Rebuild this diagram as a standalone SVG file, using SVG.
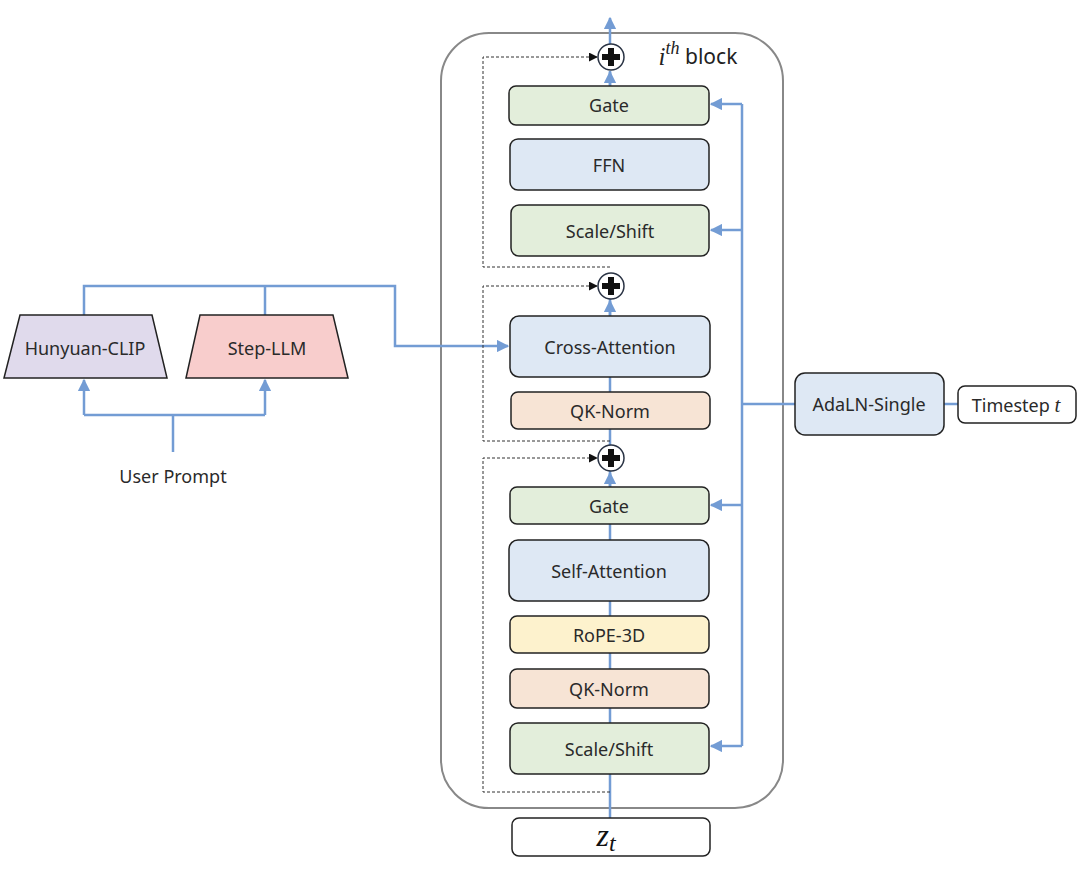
<svg xmlns="http://www.w3.org/2000/svg" width="1080" height="875" viewBox="0 0 1080 875">
<defs>
<style>
.box{stroke:#222;stroke-width:1.5}
.g{fill:#e3eedb}.b{fill:#dee8f4}.p{fill:#f7e4d5}.y{fill:#fdf2cd}.w{fill:#fff}
.t{font-family:"Noto Sans","Open Sans",sans-serif;font-size:18px;fill:#2a2a2a;text-anchor:middle;dominant-baseline:central}
.bl{fill:none;stroke:#739cd4;stroke-width:2.5}
.ds{fill:none;stroke:#333;stroke-width:1;stroke-dasharray:3,2}
</style>
<marker id="ab" viewBox="0 0 10 10" refX="9" refY="5" markerWidth="5" markerHeight="5" orient="auto"><path d="M0,0L10,5L0,10z" fill="#739cd4"/></marker>
<marker id="ak" viewBox="0 0 10 10" refX="9" refY="5" markerWidth="9" markerHeight="9" orient="auto" markerUnits="userSpaceOnUse"><path d="M0,0L10,5L0,10z" fill="#111"/></marker>
<g id="plus"><circle r="13" fill="#fff" stroke="#2a3344" stroke-width="1.5"/><path d="M-3,-9H3V-3H9V3H3V9H-3V3H-9V-3H-3z" fill="#111"/></g>
</defs>
<rect width="1080" height="875" fill="#fff"/>
<g id="outer-block"><rect x="441" y="33" width="342" height="775" rx="48" fill="none" stroke="#888" stroke-width="2"/>
<text x="698" y="56" font-size="21" dominant-baseline="central" text-anchor="middle" fill="#222"><tspan font-family="Liberation Serif,serif" font-style="italic" font-size="25">i</tspan><tspan font-family="Liberation Serif,serif" font-style="italic" font-size="18" dy="-8">th</tspan><tspan font-family="Noto Sans,sans-serif" dy="8"> block</tspan></text></g>
<g id="connectors">
<path class="bl" d="M610,818V299"/>
<path class="bl" d="M610,487V473" marker-end="url(#ab)"/>
<path class="bl" d="M610,316V301" marker-end="url(#ab)"/>
<path class="bl" d="M610,125V71"/>
<path class="bl" d="M610,86V72" marker-end="url(#ab)"/>
<path class="bl" d="M610,44V18" marker-end="url(#ab)"/>
<path class="bl" d="M742,104V746"/>
<path class="bl" d="M742,104H711" marker-end="url(#ab)"/>
<path class="bl" d="M742,230H711" marker-end="url(#ab)"/>
<path class="bl" d="M742,505H711" marker-end="url(#ab)"/>
<path class="bl" d="M742,746H711" marker-end="url(#ab)"/>
<path class="bl" d="M795,404H742"/>
<path class="bl" d="M944,404H958"/>
<path class="bl" d="M84,315V286H395V346H508" marker-end="url(#ab)"/>
<path class="bl" d="M265,315V286"/>
<path class="bl" d="M173,452V415"/>
<path class="bl" d="M84,415H265"/>
<path class="bl" d="M84,415V380" marker-end="url(#ab)"/>
<path class="bl" d="M265,415V380" marker-end="url(#ab)"/>
<path class="ds" d="M610,267H483V57H597" marker-end="url(#ak)"/>
<path class="ds" d="M610,441H483V286H597" marker-end="url(#ak)"/>
<path class="ds" d="M610,792H483V458H597" marker-end="url(#ak)"/>
</g>
<g id="add-top"><use href="#plus" x="611" y="57"/></g>
<g id="add-mid"><use href="#plus" x="611" y="286"/></g>
<g id="add-bot"><use href="#plus" x="611" y="458"/></g>
<g id="gate-top"><rect class="box g" x="509" y="86" width="200" height="39" rx="7"/><text class="t" x="609" y="105">Gate</text></g>
<g id="ffn"><rect class="box b" x="510" y="139" width="199" height="51" rx="8"/><text class="t" x="609" y="165">FFN</text></g>
<g id="scale-top"><rect class="box g" x="511" y="205" width="198" height="51" rx="8"/><text class="t" x="610" y="231">Scale/Shift</text></g>
<g id="cross-attn"><rect class="box b" x="510" y="316" width="200" height="61" rx="9"/><text class="t" x="610" y="347">Cross-Attention</text></g>
<g id="qk-norm-top"><rect class="box p" x="511" y="392" width="199" height="37" rx="7"/><text class="t" x="610" y="411">QK-Norm</text></g>
<g id="gate-bot"><rect class="box g" x="510" y="487" width="199" height="37" rx="7"/><text class="t" x="609" y="506">Gate</text></g>
<g id="self-attn"><rect class="box b" x="509" y="540" width="200" height="61" rx="9"/><text class="t" x="609" y="571">Self-Attention</text></g>
<g id="rope"><rect class="box y" x="510" y="616" width="199" height="37" rx="7"/><text class="t" x="609" y="635">RoPE-3D</text></g>
<g id="qk-norm-bot"><rect class="box p" x="510" y="669" width="199" height="39" rx="7"/><text class="t" x="609" y="689">QK-Norm</text></g>
<g id="scale-bot"><rect class="box g" x="510" y="723" width="199" height="51" rx="8"/><text class="t" x="609" y="749">Scale/Shift</text></g>
<g id="zt"><rect class="box w" x="512" y="818" width="198" height="38" rx="7"/><text x="606" y="846" font-family="Liberation Serif,serif" font-style="italic" font-size="32" text-anchor="middle" fill="#111">z<tspan font-size="24" dy="5">t</tspan></text></g>
<g id="adaln"><rect class="box b" x="795" y="373" width="149" height="62" rx="10"/><text class="t" x="869" y="404">AdaLN-Single</text></g>
<g id="timestep"><rect class="box w" x="958" y="386" width="118" height="37" rx="7"/><text class="t" x="1016" y="405">Timestep <tspan font-family="Liberation Serif,serif" font-style="italic" font-size="21">t</tspan></text></g>
<g id="hunyuan"><path class="box" d="M20,315H152L167,378H4z" fill="#e0daec"/><text class="t" x="85" y="348">Hunyuan-CLIP</text></g>
<g id="stepllm"><path class="box" d="M200,315H333L348,378H186z" fill="#f8cdcc"/><text class="t" x="267" y="348">Step-LLM</text></g>
<g id="prompt"><text class="t" x="173" y="476">User Prompt</text></g>
</svg>
